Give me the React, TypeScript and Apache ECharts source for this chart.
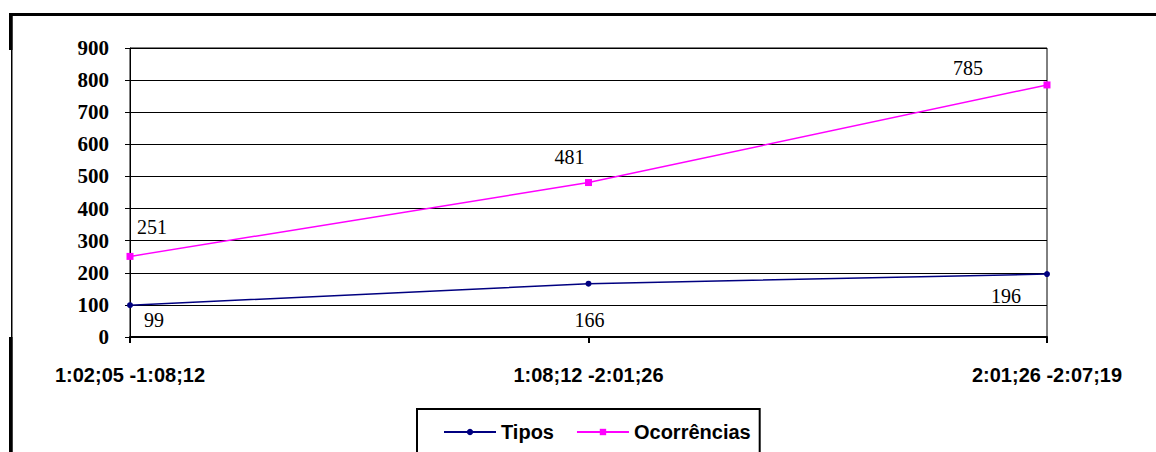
import React, { useEffect, useRef } from "react";
import * as echarts from "echarts";

const categories = ["1:02;05 -1:08;12", "1:08;12 -2:01;26", "2:01;26 -2:07;19"];
const tipos = [99, 166, 196];
const ocorrencias = [251, 481, 785];
const yMin = 0;
const yMax = 900;
const yStep = 100;

// label placement (styling only)
const tiposLabelOffsets = [[24, 15], [1, 36], [-41, 22]];
const ocorrLabelOffsets = [[22, -29], [-19, -26], [-79, -17]];

const NAVY = "#000080";
const MAGENTA = "#FF00FF";

export default function App() {
  const ref = useRef<HTMLDivElement>(null);

  useEffect(() => {
    if (!ref.current) return;
    const chart = echarts.init(ref.current, null, { renderer: "svg" });

    const labelStyle = {
      show: true,
      position: "inside",
      fontFamily: "Liberation Serif",
      fontSize: 20,
      color: "#000",
      align: "center",
      verticalAlign: "middle",
    };

    const build = (vals: number[], offs: number[][]) =>
      vals.map((v, i) => ({
        value: v,
        label: { ...labelStyle, offset: offs[i] },
      }));

    chart.setOption({
      animation: false,
      backgroundColor: "#fff",
      grid: {
        left: 130,
        right: 109,
        top: 48,
        bottom: 115,
        show: true,
        borderColor: "#000",
        borderWidth: 1,
        backgroundColor: "transparent",
      },
      legend: {
        left: 417,
        top: 409,
        padding: [13, 9, 22, 26],
        itemGap: 22,
        itemWidth: 52,
        itemHeight: 8,
        borderColor: "#000",
        borderWidth: 2,
        backgroundColor: "#fff",
        textStyle: {
          fontFamily: "Liberation Sans",
          fontWeight: "bold",
          fontSize: 20,
          color: "#000",
        },
        data: ["Tipos", "Ocorrências"],
      },
      xAxis: {
        type: "category",
        data: categories,
        boundaryGap: false,
        axisLine: { show: true, lineStyle: { color: "#000", width: 2 } },
        axisTick: {
          show: true,
          interval: 0,
          length: 6,
          lineStyle: { color: "#000", width: 2 },
        },
        axisLabel: {
          interval: 0,
          margin: 28,
          fontFamily: "Liberation Sans",
          fontWeight: "bold",
          fontSize: 20,
          color: "#000",
        },
        splitLine: { show: false },
      },
      yAxis: {
        type: "value",
        min: yMin,
        max: yMax,
        interval: yStep,
        axisLine: { show: true, lineStyle: { color: "#000", width: 1 } },
        axisTick: { show: true, length: 5, lineStyle: { color: "#000", width: 1 } },
        axisLabel: {
          margin: 21,
          fontFamily: "Liberation Serif",
          fontWeight: "bold",
          fontSize: 21,
          color: "#000",
        },
        splitLine: { show: true, lineStyle: { color: "#000", width: 1 } },
      },
      series: [
        {
          name: "Tipos",
          type: "line",
          data: build(tipos, tiposLabelOffsets),
          symbol: "circle",
          symbolSize: 6,
          lineStyle: { color: NAVY, width: 1.5 },
          itemStyle: { color: NAVY },
          z: 3,
        },
        {
          name: "Ocorrências",
          type: "line",
          data: build(ocorrencias, ocorrLabelOffsets),
          symbol: "rect",
          symbolSize: 7,
          lineStyle: { color: MAGENTA, width: 1.5 },
          itemStyle: { color: MAGENTA },
          z: 3,
        },
      ],
      graphic: [
        { type: "rect", shape: { x: 9, y: 13, width: 1147, height: 3 }, style: { fill: "#000" }, silent: true },
        { type: "rect", shape: { x: 11, y: 13, width: 1.5, height: 439 }, style: { fill: "#000" }, silent: true },
        { type: "rect", shape: { x: 9, y: 13, width: 3.5, height: 37 }, style: { fill: "#000" }, silent: true },
        { type: "rect", shape: { x: 9, y: 337, width: 3.5, height: 115 }, style: { fill: "#000" }, silent: true },
      ],
    });

    return () => chart.dispose();
  }, []);

  return (
    <div
      ref={ref}
      style={{ position: "absolute", left: 0, top: 0, width: 1156, height: 452, background: "#fff" }}
    />
  );
}
